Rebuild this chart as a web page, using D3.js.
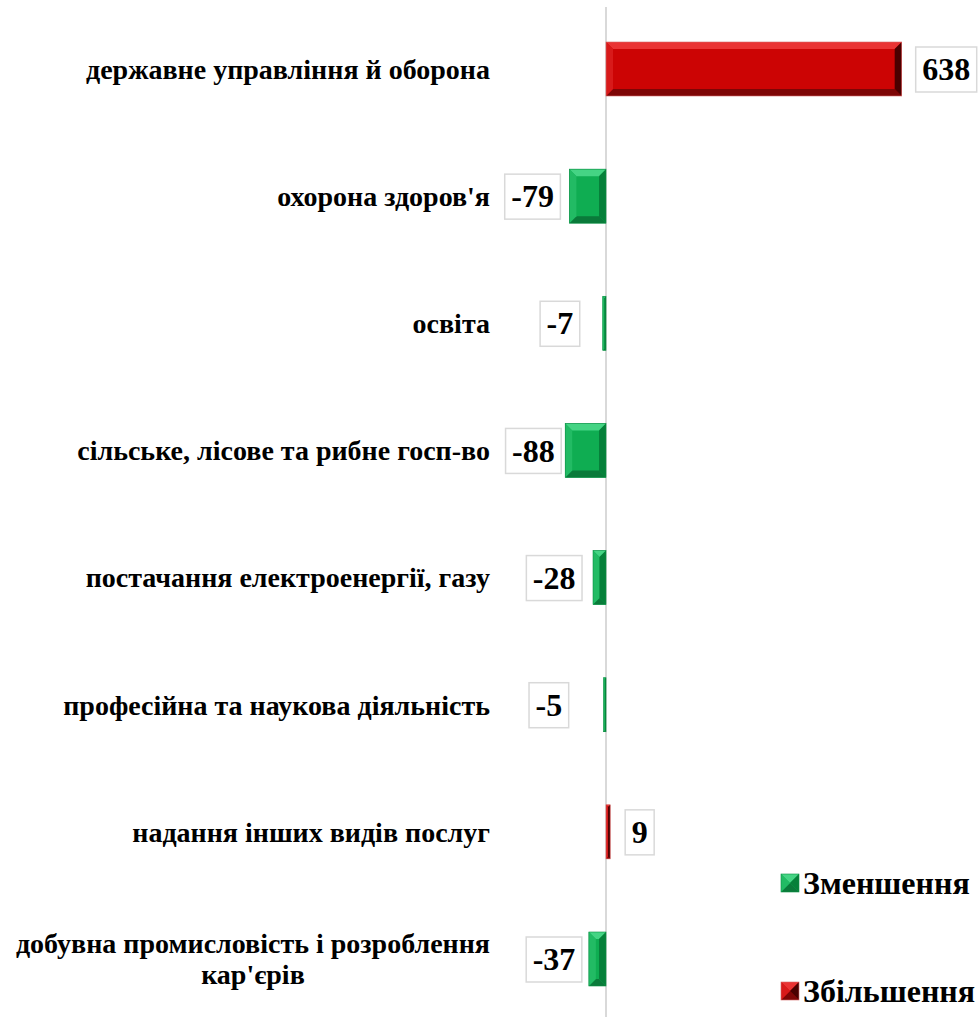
<!DOCTYPE html>
<html><head><meta charset="utf-8">
<script src="https://cdn.jsdelivr.net/npm/d3@7"></script>
<style>html,body{margin:0;padding:0;background:#fff;}svg{display:block;}</style>
</head><body>
<svg id="chart" width="980" height="1017"></svg>
<script>
// ---- data ----
const categories = [
  ["державне управління й оборона"],
  ["охорона здоров'я"],
  ["освіта"],
  ["сільське, лісове та рибне госп-во"],
  ["постачання електроенергії, газу"],
  ["професійна та наукова діяльність"],
  ["надання інших видів послуг"],
  ["добувна промисловість і розроблення", "кар'єрів"]
];
const values = [638, -79, -7, -88, -28, -5, 9, -37];
const legendLabels = ["Зменшення", "Збільшення"];

// ---- layout ----
const W = 980, H = 1017;
const zeroX = 606;
const labelGap = [14, 9, 23, 4, 11, 35, 15, 7];
const FONT = "'Liberation Serif','Times New Roman',serif";
const svg = d3.select("#chart");

const x = d3.scaleLinear().domain([0, 638]).range([zeroX, 901.7]);
const keys = categories.map((c, i) => i);
const y = d3.scalePoint().domain(keys).range([69, 959]);
const barH = 54;

const pal = {
  neg: {c:"#0fad52", t:"#45d484", l:"#22bb64", r:"#06803a", b:"#0a7a3a", s:"#0b8f44"},
  pos: {c:"#cc0404", t:"#ea3333", l:"#d81a1a", r:"#4a0000", b:"#7e0606", s:"#d46a6a"}
};

function bevel(g, x0, x1, y0, y1, p, maxB) {
  const b = Math.min(maxB, (x1 - x0) / 2, (y1 - y0) / 2);
  g.append("rect").attr("x", x0).attr("y", y0).attr("width", x1 - x0).attr("height", y1 - y0).attr("fill", p.c);
  const poly = (pts, f) => g.append("polygon").attr("points", pts.map(d => d.join(",")).join(" ")).attr("fill", f);
  poly([[x0,y0],[x1,y0],[x1-b,y0+b],[x0+b,y0+b]], p.t);
  poly([[x0,y1],[x1,y1],[x1-b,y1-b],[x0+b,y1-b]], p.b);
  poly([[x0,y0],[x0+b,y0+b],[x0+b,y1-b],[x0,y1]], p.l);
  poly([[x1,y0],[x1-b,y0+b],[x1-b,y1-b],[x1,y1]], p.r);
  g.append("rect").attr("x", x0).attr("y", y0).attr("width", x1 - x0).attr("height", y1 - y0)
    .attr("fill", "none").attr("stroke", p.s).attr("stroke-width", 0.6);
}

// axis line
svg.append("line").attr("x1", zeroX).attr("x2", zeroX).attr("y1", 7).attr("y2", H)
  .attr("stroke", "#d9d9d9").attr("stroke-width", 2);

// bars
const bars = svg.append("g");
values.forEach((v, i) => {
  const x0 = Math.min(x(0), x(v)), x1 = Math.max(x(0), x(v));
  const cy = y(i);
  bevel(bars.append("g"), x0, x1, cy - barH / 2, cy + barH / 2, v < 0 ? pal.neg : pal.pos, 7);
});

// data labels
const lab = svg.append("g");
values.forEach((v, i) => {
  const cy = y(i);
  const g = lab.append("g");
  const t = g.append("text").attr("font-family", FONT).attr("font-weight", "bold").attr("font-size", 32)
    .attr("fill", "#000").attr("text-anchor", "middle").attr("dy", "0.35em").text(v);
  const tw = t.node().getComputedTextLength();
  const bw = tw + 13, bh = 45;
  let bx;
  if (v >= 0) bx = x(v) + labelGap[i];
  else bx = x(v) - labelGap[i] - bw;
  t.attr("x", bx + bw / 2).attr("y", cy);
  g.insert("rect", "text").attr("x", bx).attr("y", cy - bh / 2 + 0.5).attr("width", bw).attr("height", bh)
    .attr("fill", "#fff").attr("stroke", "#d9d9d9").attr("stroke-width", 1.5);
});

// category labels
const cat = svg.append("g");
categories.forEach((lines, i) => {
  const cy = y(i);
  const t = cat.append("text").attr("font-family", FONT).attr("font-weight", "bold").attr("font-size", 28)
    .attr("fill", "#000").attr("text-anchor", "end");
  if (lines.length === 1) {
    t.attr("x", 490).attr("y", cy).attr("dy", "0.35em").text(lines[0]);
  } else {
    const lh = 31;
    lines.forEach((ln, j) => {
      t.append("tspan").attr("x", 490).attr("y", cy + (j - (lines.length - 1) / 2) * lh).attr("dy", "0.35em").text(ln);
    });
    const tsp = t.selectAll("tspan").nodes();
    const widths = tsp.map(n => n.getComputedTextLength());
    const maxW = Math.max(...widths);
    tsp.forEach((n) => {
      d3.select(n).attr("text-anchor", "middle").attr("x", 490 - maxW / 2);
    });
  }
});

// legend
const leg = svg.append("g");
const legY = [883, 991];
legendLabels.forEach((l, i) => {
  const p = i === 0 ? pal.neg : pal.pos;
  bevel(leg.append("g"), 781, 799, legY[i] - 9, legY[i] + 9, p, 9);
  leg.append("text").attr("x", 803).attr("y", legY[i]).attr("dy", "0.35em")
    .attr("font-family", FONT).attr("font-weight", "bold").attr("font-size", 32).attr("fill", "#000").text(l);
});
</script>
</body></html>
